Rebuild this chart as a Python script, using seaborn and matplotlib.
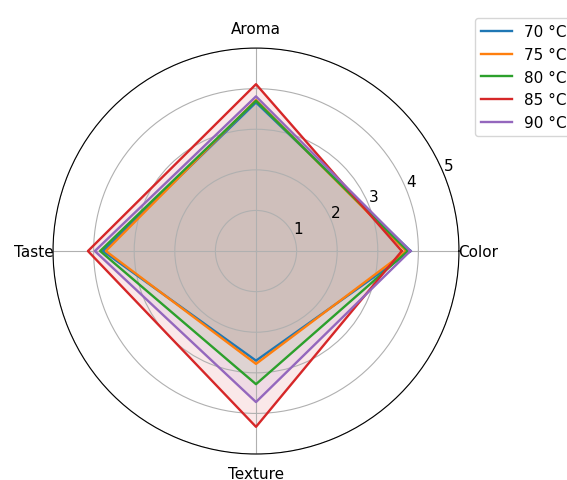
import numpy as np
import pandas as pd
import matplotlib
matplotlib.use("Agg")
import matplotlib.pyplot as plt
import seaborn as sns

# ── Data ──────────────────────────────────────────────────────────────────────
categories = ["Color", "Aroma", "Taste", "Texture"]
temps      = ["70 °C", "75 °C", "80 °C", "85 °C", "90 °C"]
score_70 = [3.81, 3.66, 3.77, 2.70]
score_75 = [3.70, 3.72, 3.70, 2.78]
score_80 = [3.74, 3.70, 3.84, 3.28]
score_85 = [3.59, 4.11, 4.14, 4.33]
score_90 = [3.80, 3.81, 3.97, 3.72]
series = [score_70, score_75, score_80, score_85, score_90]

angles = np.linspace(0, 2 * np.pi, len(categories), endpoint=False)

# long-form frame, loop closed by repeating the first point
rows = []
for t, vals in zip(temps, series):
    for a, v in zip(list(angles) + [angles[0] + 2 * np.pi], vals + [vals[0]]):
        rows.append({"angle": a, "score": v, "temp": t})
df = pd.DataFrame(rows)

palette = dict(zip(temps, sns.color_palette("tab10", len(temps))))

# ── Figure ────────────────────────────────────────────────────────────────────
fig = plt.figure(figsize=(5.67, 4.81), dpi=100)
ax = fig.add_axes([0.0935, 0.054, 0.716, 0.844], projection="polar")

sns.lineplot(data=df, x="angle", y="score", hue="temp", palette=palette,
             sort=False, estimator=None, linewidth=1.7, ax=ax)
for t, vals in zip(temps, series):
    ax.fill(angles, vals, color=palette[t], alpha=0.1)

ax.set_xticks(angles)
ax.set_xticklabels(categories, fontsize=11)
ax.set_ylim(0, 5)
ax.set_yticks([1, 2, 3, 4, 5])
ax.set_yticklabels(["1", "2", "3", "4", "5"], fontsize=11)
ax.set_rlabel_position(22.5)
ax.set_xlabel("")
ax.set_ylabel("")
ax.grid(True, color="#b0b0b0", linewidth=0.8)

handles, labels = ax.get_legend_handles_labels()
ax.legend(handles, labels, loc="upper left", bbox_to_anchor=(0.824, 0.976),
          bbox_transform=fig.transFigure, fontsize=11, frameon=True)

fig.savefig("out.png", dpi=100)
